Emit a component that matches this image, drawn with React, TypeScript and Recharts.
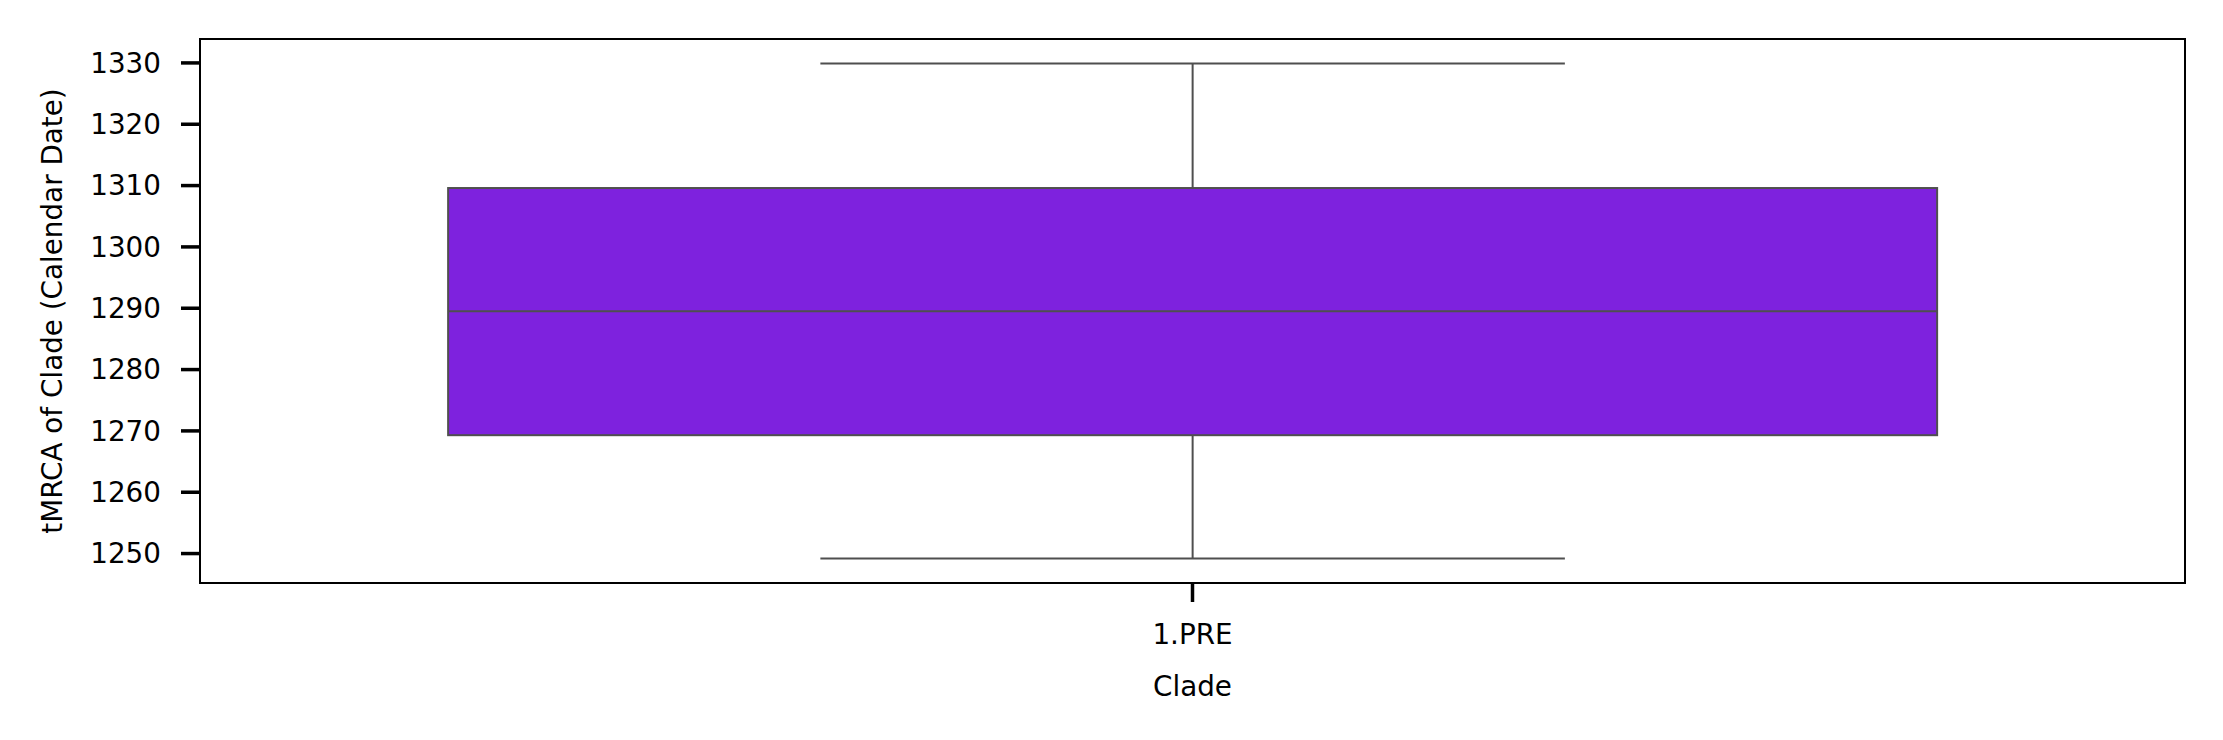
import React from 'react';
import { ComposedChart, Bar, XAxis, YAxis, ReferenceArea } from 'recharts';

const categories = ['1.PRE'];
const mins = [1249.2];
const q1s = [1269.3];
const medians = [1289.5];
const q3s = [1309.6];
const maxs = [1329.9];
const yTicks = [1250, 1260, 1270, 1280, 1290, 1300, 1310, 1320, 1330];
const yDomain = [1245.2, 1333.9];

const data = categories.map((name, i) => ({
  name,
  min: mins[i],
  q1: q1s[i],
  median: medians[i],
  q3: q3s[i],
  max: maxs[i],
  box: [q1s[i], q3s[i]],
}));

const FONT = 'DejaVu Sans, sans-serif';
const FS = 27.8;
const EDGE = '#4f4f4f';
const FILL = '#7e22de';

const BoxShape = (props: any) => {
  const { x, y, width, height, payload } = props;
  const ratio = height / (payload.q3 - payload.q1);
  const cx = x + width / 2;
  const yMed = y + (payload.q3 - payload.median) * ratio;
  const yMax = y - (payload.max - payload.q3) * ratio;
  const yMin = y + height + (payload.q1 - payload.min) * ratio;
  const capL = x + width / 4;
  const capR = x + (3 * width) / 4;
  return (
    <g>
      <line x1={cx} x2={cx} y1={yMax} y2={y} stroke={EDGE} strokeWidth={2} />
      <line x1={cx} x2={cx} y1={y + height} y2={yMin} stroke={EDGE} strokeWidth={2} />
      <line x1={capL} x2={capR} y1={yMax} y2={yMax} stroke={EDGE} strokeWidth={2} />
      <line x1={capL} x2={capR} y1={yMin} y2={yMin} stroke={EDGE} strokeWidth={2} />
      <rect x={x} y={y} width={width} height={height} fill={FILL} stroke={EDGE} strokeWidth={2} />
      <line x1={x} x2={x + width} y1={yMed} y2={yMed} stroke={EDGE} strokeWidth={2} />
    </g>
  );
};

const YLabel = (props: any) => {
  const vb = props.viewBox || {};
  const lx = (vb.x ?? 0) + 52;
  const ly = (vb.y ?? 0) + (vb.height ?? 0) / 2;
  return (
    <text
      x={lx}
      y={ly}
      transform={`rotate(-90, ${lx}, ${ly})`}
      textAnchor="middle"
      dominantBaseline="central"
      fontFamily={FONT}
      fontSize={FS}
      fill="#000"
    >
      tMRCA of Clade (Calendar Date)
    </text>
  );
};

export default function App() {
  return (
    <div style={{ position: 'absolute', left: 0, top: 0, width: 2223, height: 740, background: '#fff' }}>
      <ComposedChart
        width={2223}
        height={740}
        data={data}
        margin={{ top: 39, right: 38, left: 0, bottom: 0 }}
        barCategoryGap="12.5%"
      >
        <XAxis
          dataKey="name"
          type="category"
          height={157}
          axisLine={{ stroke: '#000', strokeWidth: 2 }}
          tickLine={{ stroke: '#000', strokeWidth: 3.5 }}
          tickSize={19}
          tickMargin={22}
          tick={{ fontFamily: FONT, fontSize: FS, fill: '#000' }}
          label={{ value: 'Clade', position: 'insideTop', offset: 93.5, fontFamily: FONT, fontSize: FS, fill: '#000' }}
        />
        <YAxis
          type="number"
          width={200}
          domain={yDomain}
          ticks={yTicks}
          allowDataOverflow
          axisLine={{ stroke: '#000', strokeWidth: 2 }}
          tickLine={{ stroke: '#000', strokeWidth: 3.5 }}
          tickSize={19}
          tickMargin={20}
          tick={{ fontFamily: FONT, fontSize: FS, fill: '#000' }}
          label={<YLabel />}
        />
        <Bar dataKey="box" shape={<BoxShape />} isAnimationActive={false} />
        <ReferenceArea
          y1={yDomain[0]}
          y2={yDomain[1]}
          fill="none"
          fillOpacity={0}
          stroke="#000"
          strokeWidth={2}
          strokeOpacity={1}
          ifOverflow="visible"
        />
      </ComposedChart>
    </div>
  );
}
